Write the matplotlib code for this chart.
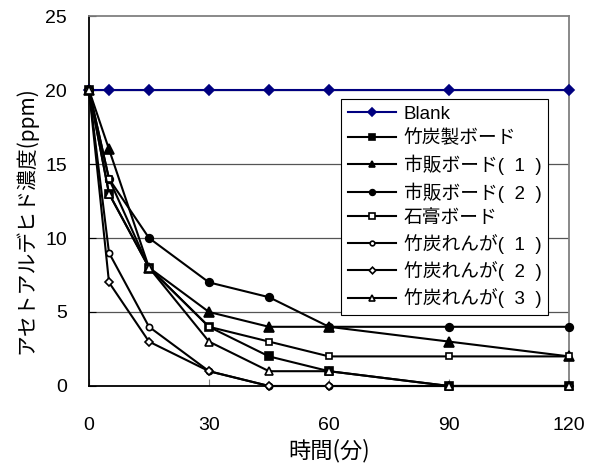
import matplotlib
matplotlib.use("Agg")
import matplotlib.pyplot as plt

plt.rcParams['font.family'] = ['Liberation Sans', 'Noto Sans CJK JP', 'DejaVu Sans']

# Sampling times (minutes)
times = [0, 5, 15, 30, 45, 60, 90, 120]

# Acetaldehyde concentration (ppm) for each material
blank = [20, 20, 20, 20, 20, 20, 20, 20]
bamboo_board = [20, 13, 8, 4, 2, 1, 0, 0]
market_board_1 = [20, 16, 8, 5, 4, 4, 3, 2]
market_board_2 = [20, 14, 10, 7, 6, 4, 4, 4]
gypsum_board = [20, 14, 8, 4, 3, 2, 2, 2]
bamboo_brick_1 = [20, 9, 4, 1, 0, 0, 0, 0]
bamboo_brick_2 = [20, 7, 3, 1, 0, 0, 0, 0]
bamboo_brick_3 = [20, 13, 8, 3, 1, 1, 0, 0]

labels = ["Blank", "竹炭製ボード", "市販ボード(  1  )", "市販ボード(  2  )", "石膏ボード",
          "竹炭れんが(  1  )", "竹炭れんが(  2  )", "竹炭れんが(  3  )"]
x_ticks = [0, 30, 60, 90, 120]
y_ticks = [0, 5, 10, 15, 20, 25]

series = [blank, bamboo_board, market_board_1, market_board_2, gypsum_board,
          bamboo_brick_1, bamboo_brick_2, bamboo_brick_3]
styles = [
    dict(color="#000080", marker="D", ms=5.5, mfc="#000080"),
    dict(color="black", marker="s", ms=5.5, mfc="black"),
    dict(color="black", marker="^", ms=6.5, mfc="black"),
    dict(color="black", marker="o", ms=5.5, mfc="black"),
    dict(color="black", marker="s", ms=5, mfc="white"),
    dict(color="black", marker="o", ms=4.5, mfc="white"),
    dict(color="black", marker="D", ms=4.5, mfc="white"),
    dict(color="black", marker="^", ms=6, mfc="white"),
]

fig = plt.figure(figsize=(5.99, 4.68), dpi=100)
ax = fig.add_axes([89 / 599, 82 / 468, 480 / 599, 370 / 468])

for ys, lab, st in zip(series, labels, styles):
    ax.plot(times, ys, label=lab, lw=1.5, mec=st["color"], mew=1.2,
            clip_on=False, zorder=3, **st)

ax.set_xlim(0, 120)
ax.set_ylim(0, 25)
ax.set_xticks(x_ticks)
ax.set_yticks(y_ticks)
ax.tick_params(axis="x", direction="in", length=5, color="#808080", pad=22, labelsize=14)
ax.tick_params(axis="y", direction="in", length=5, color="black", pad=16, labelsize=14)

for yv in [5, 10, 15, 20]:
    ax.axhline(yv, color="#555555", lw=0.9, zorder=1)

ax.spines["left"].set_color("black")
ax.spines["bottom"].set_color("black")
ax.spines["left"].set_linewidth(1.3)
ax.spines["bottom"].set_linewidth(1.3)
ax.spines["top"].set_color("#808080")
ax.spines["right"].set_color("#808080")
ax.spines["top"].set_linewidth(1.3)
ax.spines["right"].set_linewidth(1.3)

cjk = ['Noto Sans CJK JP', 'DejaVu Sans']
ax.set_xlabel("時間(分)", fontsize=16, family=cjk)
ax.xaxis.set_label_coords(0.5, (386 - 439) / 370)
ax.set_ylabel("アセトアルデヒド濃度(ppm)", fontsize=15, family=cjk)
ax.yaxis.set_label_coords((37 - 89) / 480, (386 - 220) / 370)

leg = ax.legend(loc="upper left", bbox_to_anchor=((341 - 89) / 480, (386 - 99) / 370),
                prop={"family": ['Liberation Sans', 'Noto Sans CJK JP', 'DejaVu Sans'],
                      "size": 13.5},
                frameon=True, fancybox=False, shadow=False, framealpha=1,
                edgecolor="black", handlelength=2.6, handletextpad=0.4,
                labelspacing=0.38, borderpad=0.35, borderaxespad=0, markerscale=0.75)
leg.get_frame().set_linewidth(0.8)
leg.set_zorder(5)

fig.savefig("out.png", dpi=100, facecolor="white")
